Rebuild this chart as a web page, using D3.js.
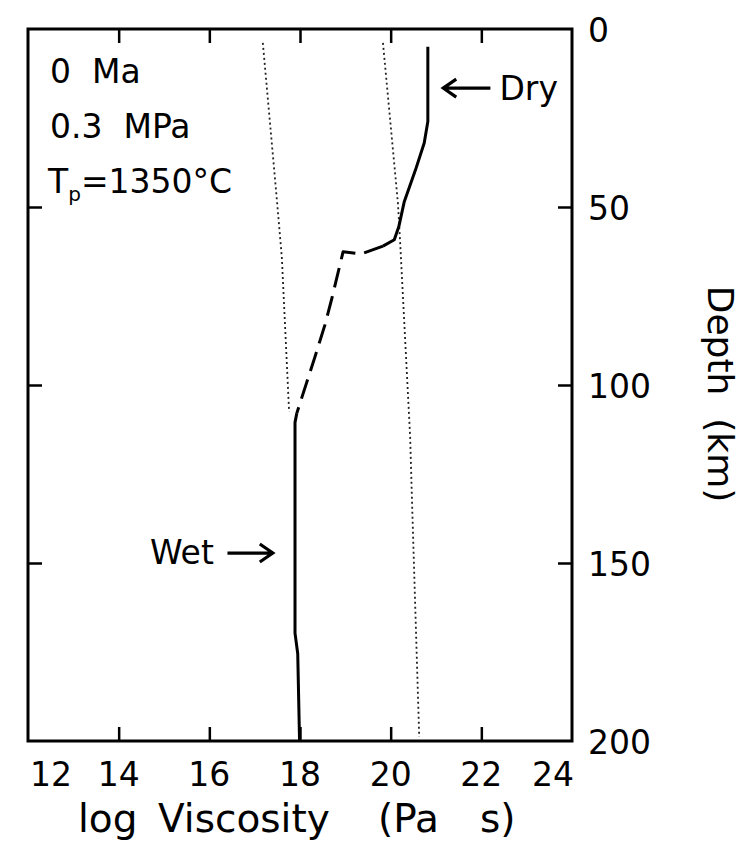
<!DOCTYPE html>
<html>
<head>
<meta charset="utf-8">
<script src="https://cdn.jsdelivr.net/npm/d3@7"></script>
<style>
  body { margin: 0; background: #fff; }
  svg { display: block; }
  text { font-family: "DejaVu Sans", sans-serif; fill: #000; white-space: pre; }
</style>
</head>
<body>
<svg id="chart" width="747" height="848"></svg>
<script>
// Axis ticks
const xTicks = [12, 14, 16, 18, 20, 22, 24];
const depthTicks = [0, 50, 100, 150, 200];

// Viscosity profiles: [log viscosity (Pa s), depth (km)]
const dryProfile = [[20.82, 5], [20.82, 26], [20.74, 32], [20.55, 39.5], [20.3, 48.5],
                    [20.18, 55.5], [20.08, 59.2], [19.83, 61.0]];
const transitionProfile = [[19.83, 61.0], [19.35, 63.2], [18.95, 62.6], [18.71, 75.3],
                           [18.55, 83.1], [18.33, 92.1], [18.15, 99.2], [18.0, 105.1], [17.93, 107.9]];
const wetProfile = [[17.93, 107.9], [17.89, 110.5], [17.89, 169.7], [17.95, 175.5], [17.99, 200]];
const dryReference = [[19.83, 3.9], [20.16, 48.9], [20.21, 60.1], [20.43, 114.6],
                      [20.47, 132.3], [20.63, 198.9]];
const wetReference = [[17.18, 3.9], [17.49, 48], [17.60, 64.3], [17.76, 107.6]];

// Model conditions
const conditions = ["0  Ma", "0.3  MPa"];
const potentialTemp = "1350°C";

const svg = d3.select("#chart");
const plotL = 28, plotR = 572, plotT = 29, plotB = 741;

const x = d3.scaleLinear().domain([12, 24]).range([plotL, plotR]);
const y = d3.scaleLinear().domain([0, 200]).range([plotT, plotB]);

const line = d3.line().x(d => x(d[0])).y(d => y(d[1]));

// Dotted reference profiles
[dryReference, wetReference].forEach(ref => {
  svg.append("path").datum(ref)
    .attr("d", line)
    .attr("fill", "none")
    .attr("stroke", "#222")
    .attr("stroke-width", 1.8)
    .attr("stroke-dasharray", "2 3");
});

// Solid and dashed viscosity profile
[[dryProfile, null], [transitionProfile, "20 9"], [wetProfile, null]].forEach(([data, dash]) => {
  svg.append("path").datum(data)
    .attr("d", line)
    .attr("fill", "none")
    .attr("stroke", "#000")
    .attr("stroke-width", 3)
    .attr("stroke-linejoin", "round")
    .attr("stroke-dasharray", dash);
});

// Inward ticks on all four sides
const inner = xTicks.slice(1, -1);
const innerDepth = depthTicks.slice(1, -1);
const tickLen = 14;
function styleAxis(g) {
  g.select(".domain").remove();
  g.selectAll(".tick line").attr("stroke", "#000").attr("stroke-width", 2.5);
}
svg.append("g").attr("transform", `translate(0,${plotB})`)
  .call(d3.axisBottom(x).tickValues(inner).tickSize(-tickLen).tickFormat("")).call(styleAxis);
svg.append("g").attr("transform", `translate(0,${plotT})`)
  .call(d3.axisTop(x).tickValues(inner).tickSize(-tickLen).tickFormat("")).call(styleAxis);
svg.append("g").attr("transform", `translate(${plotL},0)`)
  .call(d3.axisLeft(y).tickValues(innerDepth).tickSize(-tickLen).tickFormat("")).call(styleAxis);
svg.append("g").attr("transform", `translate(${plotR},0)`)
  .call(d3.axisRight(y).tickValues(innerDepth).tickSize(-tickLen).tickFormat("")).call(styleAxis);

// Frame
svg.append("rect")
  .attr("x", plotL).attr("y", plotT)
  .attr("width", plotR - plotL).attr("height", plotB - plotT)
  .attr("fill", "none").attr("stroke", "#000").attr("stroke-width", 3);

// Bottom tick labels
svg.append("g").selectAll("text").data(xTicks).join("text")
  .attr("x", (d, i) => i === 0 ? x(d) + 2 : i === xTicks.length - 1 ? x(d) + 2 : x(d))
  .attr("y", 786)
  .attr("text-anchor", (d, i) => i === 0 ? "start" : i === xTicks.length - 1 ? "end" : "middle")
  .style("font-size", "33px")
  .text(d => d);

// Right tick labels
svg.append("g").selectAll("text").data(depthTicks).join("text")
  .attr("x", 588)
  .attr("y", d => y(d) + 13)
  .style("font-size", "33px")
  .text(d => d);

// Axis titles
const xt = svg.append("text").attr("y", 832).style("font-size", "39px");
[["log", 78], ["Viscosity", 158], ["(Pa", 378], ["s)", 480]].forEach(([w, px]) => {
  xt.append("tspan").attr("x", px).text(w);
});

svg.append("text")
  .attr("transform", `translate(708,${(plotT + plotB) / 2 + 9}) rotate(90)`)
  .attr("text-anchor", "middle")
  .style("font-size", "36px")
  .text("Depth  (km)");

// Model conditions
svg.append("g").selectAll("text").data(conditions).join("text")
  .attr("x", 50)
  .attr("y", (d, i) => 83 + i * 55)
  .style("font-size", "33px")
  .text(d => d);
const tp = svg.append("text").attr("x", 48).attr("y", 193).style("font-size", "33px");
tp.append("tspan").text("T");
tp.append("tspan").attr("dy", 8).style("font-size", "20px").text("p");
tp.append("tspan").attr("dy", -8).text("=" + potentialTemp);

// Annotation arrows
function arrow(x1, x2, yy, headAtStart) {
  const hx = headAtStart ? x1 : x2;
  const dir = headAtStart ? 1 : -1;
  svg.append("path")
    .attr("d", `M${x1},${yy}H${x2}M${hx + dir * 13},${yy - 9}L${hx},${yy}L${hx + dir * 13},${yy + 9}`)
    .attr("fill", "none").attr("stroke", "#000").attr("stroke-width", 3.2);
}
const dryDepth = 16.6, wetDepth = 147.2;
arrow(x(21.16), x(22.2), y(dryDepth), true);
svg.append("text").attr("x", x(22.4)).attr("y", y(dryDepth) + 12)
  .style("font-size", "33px").text("Dry");
arrow(x(16.4), x(17.4), y(wetDepth), false);
svg.append("text").attr("x", x(16.1)).attr("y", y(wetDepth) + 11)
  .attr("text-anchor", "end").style("font-size", "33px").text("Wet");
</script>
</body>
</html>
